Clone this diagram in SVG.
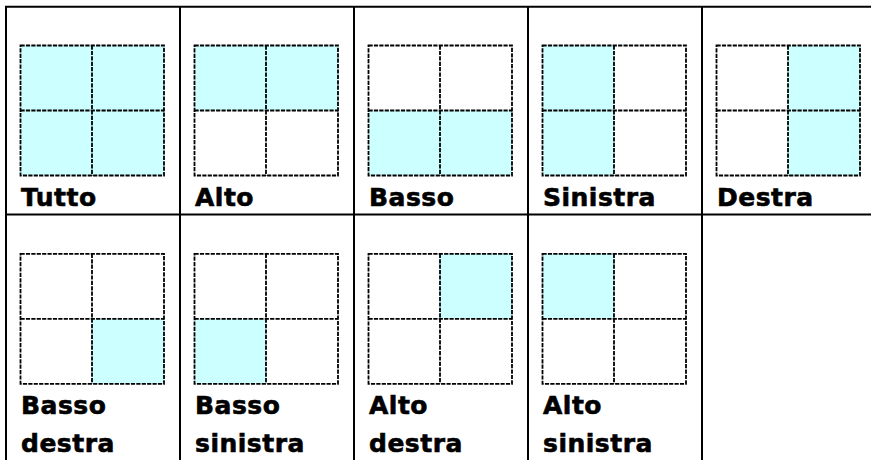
<svg xmlns="http://www.w3.org/2000/svg" width="871" height="460" viewBox="0 0 871 460">
<defs>
<style>
.tbl{stroke:#000;stroke-width:2;fill:none}
.fill{fill:#CCFFFF;stroke:none}
.dash{stroke:#000;stroke-width:1.8;stroke-dasharray:4.2 1.2;fill:none}
.lbl{font-family:"DejaVu Sans","Verdana",sans-serif;font-weight:bold;font-size:25px;letter-spacing:0.5px;fill:#000;stroke:#000;stroke-width:0.6}
</style>
<g id="grid">
<rect class="dash" x="0" y="0" width="143.5" height="130"/>
<line class="dash" x1="71.5" y1="0" x2="71.5" y2="130"/>
<line class="dash" x1="0" y1="65" x2="143.5" y2="65"/>
</g>
</defs>
<rect width="871" height="460" fill="#fff"/>
<g id="table">
<line class="tbl" x1="5" y1="6.7" x2="871" y2="6.7"/>
<line class="tbl" x1="5" y1="214.5" x2="871" y2="214.5"/>
<line class="tbl" x1="6" y1="6" x2="6" y2="460"/>
<line class="tbl" x1="180" y1="6" x2="180" y2="460"/>
<line class="tbl" x1="354" y1="6" x2="354" y2="460"/>
<line class="tbl" x1="528" y1="6" x2="528" y2="460"/>
<line class="tbl" x1="702" y1="6" x2="702" y2="460"/>
</g>
<g id="tutto" transform="translate(20.5,45.5)">
<rect class="fill" x="0" y="0" width="143.5" height="130"/>
<use href="#grid"/>
<text class="lbl" x="0.5" y="160.5">Tutto</text>
</g>
<g id="alto" transform="translate(194.5,45.5)">
<rect class="fill" x="0" y="0" width="143.5" height="65"/>
<use href="#grid"/>
<text class="lbl" x="0.5" y="160.5">Alto</text>
</g>
<g id="basso" transform="translate(368.5,45.5)">
<rect class="fill" x="0" y="65" width="143.5" height="65"/>
<use href="#grid"/>
<text class="lbl" x="0.5" y="160.5">Basso</text>
</g>
<g id="sinistra" transform="translate(542.5,45.5)">
<rect class="fill" x="0" y="0" width="71.5" height="130"/>
<use href="#grid"/>
<text class="lbl" x="0.5" y="160.5">Sinistra</text>
</g>
<g id="destra" transform="translate(716.5,45.5)">
<rect class="fill" x="71.5" y="0" width="72" height="130"/>
<use href="#grid"/>
<text class="lbl" x="0.5" y="160.5">Destra</text>
</g>
<g id="basso-destra" transform="translate(20.5,253.8)">
<rect class="fill" x="71.5" y="65" width="72" height="65"/>
<use href="#grid"/>
<text class="lbl" x="0.5" y="160.5">Basso</text>
<text class="lbl" x="0.5" y="198">destra</text>
</g>
<g id="basso-sinistra" transform="translate(194.5,253.8)">
<rect class="fill" x="0" y="65" width="71.5" height="65"/>
<use href="#grid"/>
<text class="lbl" x="0.5" y="160.5">Basso</text>
<text class="lbl" x="0.5" y="198">sinistra</text>
</g>
<g id="alto-destra" transform="translate(368.5,253.8)">
<rect class="fill" x="71.5" y="0" width="72" height="65"/>
<use href="#grid"/>
<text class="lbl" x="0.5" y="160.5">Alto</text>
<text class="lbl" x="0.5" y="198">destra</text>
</g>
<g id="alto-sinistra" transform="translate(542.5,253.8)">
<rect class="fill" x="0" y="0" width="71.5" height="65"/>
<use href="#grid"/>
<text class="lbl" x="0.5" y="160.5">Alto</text>
<text class="lbl" x="0.5" y="198">sinistra</text>
</g>
</svg>
